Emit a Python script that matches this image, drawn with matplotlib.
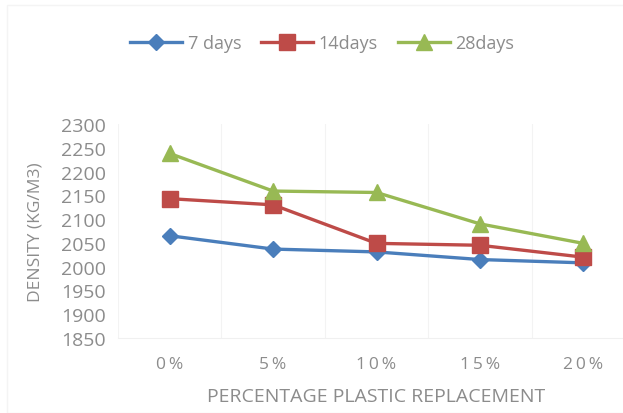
import matplotlib
matplotlib.use("Agg")
import matplotlib.pyplot as plt
from matplotlib.patches import Rectangle

categories = ["0\u2009%", "5\u2009%", "1\u20090\u2009%", "1\u20095\u2009%", "2\u20090\u2009%"]
days7 = [2065, 2037, 2031, 2015, 2008]
days14 = [2143, 2130, 2049, 2045, 2020]
days28 = [2238, 2159, 2156, 2090, 2049]
yticks = list(range(1850, 2301, 50))

plt.rcParams['font.family'] = ['Open Sans', 'DejaVu Sans']
grey = "#8c8c8c"

fig = plt.figure(figsize=(6.23, 4.14), dpi=100)
W, H = 623, 414
ax = fig.add_axes([118 / W, (H - 339) / H, (635 - 118) / W, (339 - 125) / H])

x = list(range(len(categories)))
ax.plot(x, days7, color="#4a7ebb", lw=2.4, marker="D", ms=8, label="7 days", zorder=3)
ax.plot(x, days14, color="#be4b48", lw=2.4, marker="s", ms=11, label="14days", zorder=4)
ax.plot(x, days28, color="#98b954", lw=2.4, marker="^", ms=12, label="28days", zorder=5)

ax.set_xlim(-0.5, len(categories) - 0.5)
ax.set_ylim(1850, 2300)
ax.set_yticks(yticks)
ax.set_xticks(x)
ax.set_xticklabels(categories)
ax.set_xticks([i - 0.5 for i in range(len(categories) + 1)], minor=True)
ax.grid(True, which="minor", axis="x", color="#f3f3f3", lw=0.8)
ax.tick_params(which="both", length=0)
ax.tick_params(axis="y", labelsize=14, labelcolor=grey, pad=9)
ax.tick_params(axis="x", labelsize=12.5, labelcolor=grey, pad=13)
for s in ["top", "right", "left"]:
    ax.spines[s].set_visible(False)
ax.spines["bottom"].set_color("#f0f0f0")

ax.set_ylabel("DENSITY (KG/M3)", fontsize=12.5, color=grey, labelpad=12)
fig.text(376 / W, 1 - 397 / H, "PERCENTAGE PLASTIC REPLACEMENT", fontsize=14,
         color=grey, ha="center", va="center")

fig.legend(loc="center", bbox_to_anchor=(322 / W, 1 - 44 / H), ncol=3, frameon=False,
           fontsize=13, labelcolor=grey, handlelength=2.9, columnspacing=1.1,
           handletextpad=0.3)

fig.patches.append(Rectangle((7 / W, 0), 1, 1 - 6 / H, transform=fig.transFigure,
                             fill=False, edgecolor="#f4f4f4", lw=1))

fig.savefig("out.png", dpi=100)
